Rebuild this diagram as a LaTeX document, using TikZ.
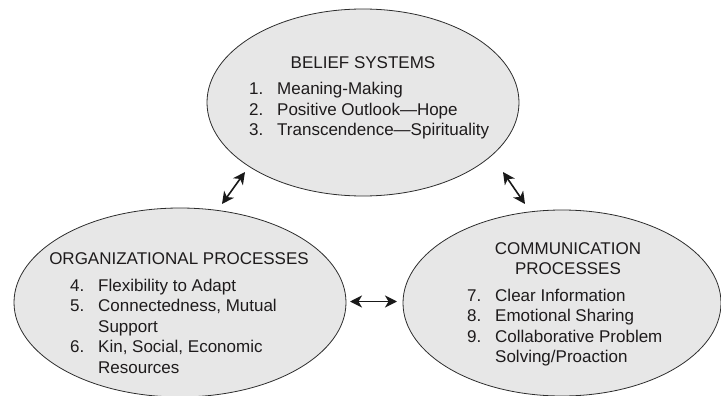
\documentclass[tikz,border=0pt]{standalone}
\usepackage{fontspec}
\setmainfont{Liberation Sans}
\usetikzlibrary{shapes.geometric,arrows.meta}
\definecolor{ovalfill}{RGB}{231,231,231}
\definecolor{ovalline}{RGB}{45,45,45}
\definecolor{ink}{RGB}{30,27,28}
\newcommand{\itm}[1]{\makebox[28pt][l]{#1}}
\newcommand{\hang}{\hspace*{28pt}}
\tikzset{
  oval/.style={ellipse, draw=ovalline, fill=ovalfill, line width=0.8pt, inner sep=0pt},
  heading/.style={inner sep=0pt, text=ink, font=\fontsize{17}{20.5}\selectfont, align=center},
  items/.style={inner sep=0pt, text=ink, font=\fontsize{17}{20.5}\selectfont, anchor=base west},
  link/.style={{Stealth[length=12pt,width=12pt,inset=3.5pt]}-{Stealth[length=12pt,width=12pt,inset=3.5pt]}, line width=1.6pt, draw=black!90}
}
\begin{document}
\begin{tikzpicture}[x=1pt,y=-1pt]
  \useasboundingbox (0,0) rectangle (721,396);
  \clip (0,0) rectangle (721,396);

  % the three ovals
  \node[oval, minimum width=312pt, minimum height=187pt] (belief) at (363,102.5) {};
  \node[oval, minimum width=332pt, minimum height=189pt] (org) at (180,302.5) {};
  \node[oval, minimum width=318pt, minimum height=186pt] (comm) at (562,303) {};

  % belief systems
  \node[heading, anchor=base] (beliefT) at (363,69) {BELIEF SYSTEMS};
  \node[items] (beliefL) at (249,95) {\begin{tabular}[t]{@{}l@{}}
    \itm{1.}Meaning-Making\\
    \itm{2.}Positive Outlook---Hope\\
    \itm{3.}Transcendence---Spirituality
  \end{tabular}};

  % organizational processes
  \node[heading, anchor=base] (orgT) at (179,264) {ORGANIZATIONAL PROCESSES};
  \node[items] (orgL) at (70,291) {\begin{tabular}[t]{@{}l@{}}
    \itm{4.}Flexibility to Adapt\\
    \itm{5.}Connectedness, Mutual\\
    \hang Support\\
    \itm{6.}Kin, Social, Economic\\
    \hang Resources
  \end{tabular}};

  % communication processes
  \node[heading, anchor=base] (commT) at (568,254) {COMMUNICATION};
  \node[heading, anchor=base] (commT2) at (568,274.5) {PROCESSES};
  \node[items] (commL) at (467,301) {\begin{tabular}[t]{@{}l@{}}
    \itm{7.}Clear Information\\
    \itm{8.}Emotional Sharing\\
    \itm{9.}Collaborative Problem\\
    \hang Solving/Proaction
  \end{tabular}};

  % connector end points in the gaps between the ovals
  \coordinate (bo1) at (245,172);
  \coordinate (bo2) at (222,204);
  \coordinate (bc1) at (503,172);
  \coordinate (bc2) at (525,204);
  \coordinate (oc1) at (350,301.5);
  \coordinate (oc2) at (397,301.5);

  \draw[link] (bo1) -- (bo2);
  \draw[link] (bc1) -- (bc2);
  \draw[link] (oc1) -- (oc2);
\end{tikzpicture}
\end{document}
